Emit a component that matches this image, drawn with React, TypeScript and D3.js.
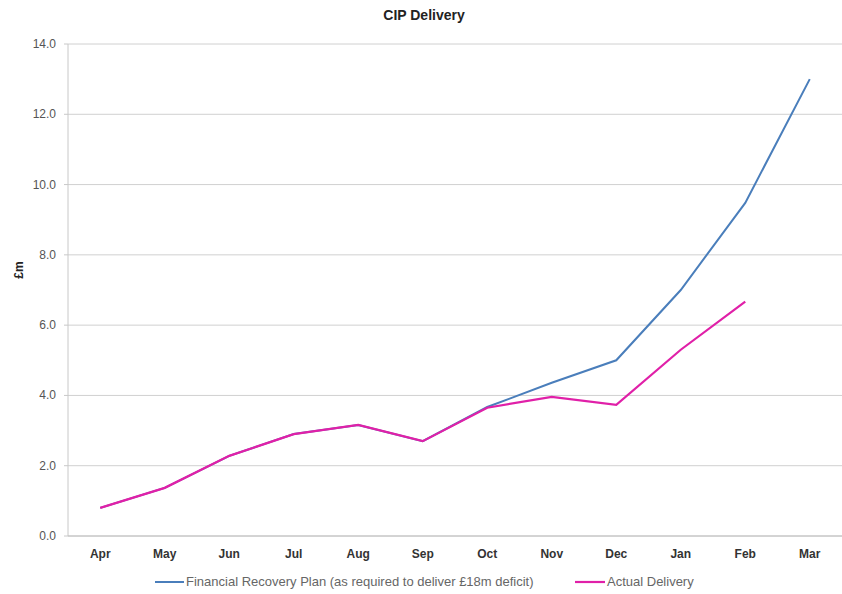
import React from "react";
import * as d3 from "d3";

const months = ["Apr", "May", "Jun", "Jul", "Aug", "Sep", "Oct", "Nov", "Dec", "Jan", "Feb", "Mar"];
const planValues: (number | null)[] = [0.8, 1.37, 2.28, 2.9, 3.16, 2.7, 3.67, 4.36, 5.0, 7.0, 9.48, 13.0];
const actualValues: (number | null)[] = [0.8, 1.37, 2.28, 2.9, 3.16, 2.7, 3.65, 3.96, 3.73, 5.3, 6.67, null];
const yTicks = [0, 2, 4, 6, 8, 10, 12, 14];
const seriesNames = ["Financial Recovery Plan (as required to deliver £18m deficit)", "Actual Delivery"];
const seriesColors = ["#4a7ebb", "#e020a8"];

const W = 842, H = 594;
const M = { left: 68, right: 842, top: 44, bottom: 536 };
const FONT = "'Liberation Sans', Arial, sans-serif";

export default function App() {
  const x = d3.scaleBand<string>().domain(months).range([M.left, M.right]);
  const y = d3.scaleLinear().domain([0, 14]).range([M.bottom, M.top]);
  const cx = (m: string) => (x(m) as number) + x.bandwidth() / 2;

  const line = d3
    .line<number | null>()
    .defined((d) => d !== null)
    .x((_, i) => cx(months[i]))
    .y((d) => y(d as number));

  return (
    <svg width={W} height={H} style={{ position: "absolute", left: 0, top: 0, background: "#fff" }}>
      <text x={424} y={20} textAnchor="middle" fontFamily={FONT} fontSize={14} fontWeight="bold" fill="#222">
        CIP Delivery
      </text>
      {yTicks.map((t) => (
        <g key={t}>
          <line x1={M.left} x2={M.right} y1={y(t)} y2={y(t)} stroke="#d0d0d0" strokeWidth={1} />
          <line x1={M.left - 4} x2={M.left} y1={y(t)} y2={y(t)} stroke="#c8c8c8" />
          <text x={M.left - 12} y={y(t) + 4} textAnchor="end" fontFamily={FONT} fontSize={12} fill="#555">
            {t.toFixed(1)}
          </text>
        </g>
      ))}
      <line x1={M.left} x2={M.left} y1={M.top} y2={M.bottom} stroke="#c8c8c8" />
      <line x1={M.left} x2={M.right} y1={M.bottom} y2={M.bottom} stroke="#c0c0c0" />
      {months.map((m) => (
        <text key={m} x={cx(m)} y={558} textAnchor="middle" fontFamily={FONT} fontSize={12} fontWeight="bold" fill="#333">
          {m}
        </text>
      ))}
      <text
        transform={`translate(23,270) rotate(-90)`}
        textAnchor="middle"
        fontFamily={FONT}
        fontSize={12}
        fontWeight="bold"
        fill="#222"
      >
        £m
      </text>
      <path d={line(planValues) || ""} fill="none" stroke={seriesColors[0]} strokeWidth={2} />
      <path d={line(actualValues) || ""} fill="none" stroke={seriesColors[1]} strokeWidth={2.2} />
      <g>
        <line x1={155} x2={184} y1={582} y2={582} stroke={seriesColors[0]} strokeWidth={2} />
        <text x={186} y={586} fontFamily={FONT} fontSize={13} fill="#666">
          {seriesNames[0]}
        </text>
        <line x1={575} x2={605} y1={582} y2={582} stroke={seriesColors[1]} strokeWidth={2.2} />
        <text x={607} y={586} fontFamily={FONT} fontSize={13} fill="#666">
          {seriesNames[1]}
        </text>
      </g>
    </svg>
  );
}
